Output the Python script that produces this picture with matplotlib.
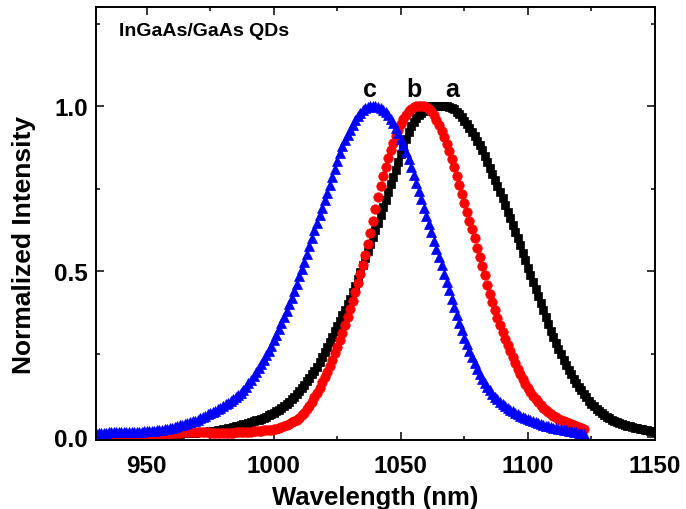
import numpy as np
import matplotlib
matplotlib.use("Agg")
import matplotlib.pyplot as plt
from matplotlib.ticker import MultipleLocator

plt.rcParams['font.family'] = ['Liberation Sans', 'DejaVu Sans']
plt.rcParams['font.weight'] = 'bold'

# PL spectra sampled every 1 nm
start_a, start_b, start_c = 930, 930, 930

# sample a (black squares)
intensity_a = [
    0.002, 0.002, 0.002, 0.002, 0.002, 0.002, 0.002, 0.002, 0.002, 0.002,
    0.002, 0.002, 0.002, 0.002, 0.002, 0.002, 0.003, 0.003, 0.003, 0.003,
    0.003, 0.003, 0.003, 0.003, 0.004, 0.004, 0.004, 0.005, 0.006, 0.006,
    0.007, 0.008, 0.009, 0.009, 0.010, 0.010, 0.011, 0.011, 0.012, 0.012,
    0.013, 0.013, 0.014, 0.014, 0.015, 0.016, 0.017, 0.018, 0.019, 0.020,
    0.022, 0.023, 0.025, 0.027, 0.029, 0.031, 0.033, 0.035, 0.037, 0.039,
    0.041, 0.044, 0.046, 0.049, 0.052, 0.055, 0.058, 0.061, 0.065, 0.069,
    0.073, 0.077, 0.082, 0.087, 0.093, 0.099, 0.105, 0.113, 0.121, 0.129,
    0.138, 0.147, 0.157, 0.167, 0.178, 0.189, 0.200, 0.212, 0.226, 0.240,
    0.255, 0.271, 0.287, 0.303, 0.319, 0.335, 0.351, 0.367, 0.384, 0.401,
    0.418, 0.437, 0.457, 0.478, 0.499, 0.520, 0.541, 0.562, 0.583, 0.604,
    0.625, 0.647, 0.670, 0.694, 0.717, 0.740, 0.763, 0.786, 0.808, 0.832,
    0.855, 0.877, 0.900, 0.921, 0.939, 0.953, 0.964, 0.972, 0.979, 0.986,
    0.992, 0.997, 0.999, 1.000, 1.000, 1.000, 1.000, 1.000, 0.999, 0.998,
    0.995, 0.990, 0.983, 0.975, 0.966, 0.956, 0.945, 0.934, 0.922, 0.909,
    0.896, 0.883, 0.866, 0.849, 0.831, 0.813, 0.795, 0.777, 0.759, 0.741,
    0.721, 0.701, 0.681, 0.661, 0.641, 0.620, 0.600, 0.579, 0.556, 0.534,
    0.511, 0.489, 0.467, 0.446, 0.425, 0.404, 0.383, 0.362, 0.341, 0.320,
    0.301, 0.283, 0.266, 0.249, 0.233, 0.218, 0.203, 0.189, 0.176, 0.163,
    0.151, 0.140, 0.129, 0.119, 0.109, 0.100, 0.092, 0.085, 0.078, 0.071,
    0.066, 0.061, 0.056, 0.052, 0.048, 0.044, 0.041, 0.038, 0.035, 0.033,
    0.031, 0.029, 0.027, 0.025, 0.023, 0.022, 0.020, 0.019, 0.017, 0.016,
    0.015, 0.014, 0.013,
]

# sample b (red circles)
intensity_b = [
    0.002, 0.002, 0.002, 0.002, 0.002, 0.002, 0.002, 0.002, 0.002, 0.002,
    0.002, 0.002, 0.002, 0.002, 0.002, 0.002, 0.002, 0.002, 0.002, 0.002,
    0.002, 0.002, 0.003, 0.003, 0.004, 0.005, 0.006, 0.007, 0.008, 0.009,
    0.010, 0.011, 0.012, 0.012, 0.013, 0.013, 0.014, 0.014, 0.014, 0.014,
    0.014, 0.014, 0.013, 0.013, 0.013, 0.012, 0.012, 0.012, 0.012, 0.012,
    0.012, 0.012, 0.012, 0.012, 0.012, 0.013, 0.013, 0.013, 0.014, 0.014,
    0.015, 0.015, 0.016, 0.017, 0.017, 0.018, 0.019, 0.020, 0.020, 0.021,
    0.022, 0.023, 0.025, 0.028, 0.031, 0.035, 0.039, 0.043, 0.047, 0.052,
    0.058, 0.065, 0.073, 0.083, 0.094, 0.106, 0.119, 0.133, 0.148, 0.164,
    0.180, 0.197, 0.215, 0.233, 0.252, 0.272, 0.293, 0.315, 0.338, 0.362,
    0.387, 0.412, 0.438, 0.465, 0.492, 0.520, 0.551, 0.583, 0.617, 0.652,
    0.688, 0.724, 0.757, 0.788, 0.817, 0.843, 0.867, 0.889, 0.909, 0.928,
    0.945, 0.960, 0.973, 0.984, 0.992, 0.997, 1.000, 1.000, 1.000, 0.999,
    0.996, 0.991, 0.984, 0.973, 0.959, 0.943, 0.926, 0.907, 0.887, 0.864,
    0.840, 0.815, 0.789, 0.762, 0.735, 0.708, 0.681, 0.654, 0.627, 0.600,
    0.572, 0.544, 0.516, 0.488, 0.460, 0.432, 0.408, 0.384, 0.360, 0.338,
    0.317, 0.297, 0.277, 0.258, 0.240, 0.222, 0.205, 0.189, 0.174, 0.160,
    0.147, 0.135, 0.124, 0.113, 0.104, 0.096, 0.088, 0.081, 0.075, 0.069,
    0.064, 0.059, 0.055, 0.051, 0.048, 0.045, 0.042, 0.039, 0.036, 0.033,
    0.030, 0.027, 0.024,
]

# sample c (blue triangles)
intensity_c = [
    0.012, 0.012, 0.012, 0.012, 0.012, 0.013, 0.013, 0.013, 0.013, 0.013,
    0.013, 0.013, 0.014, 0.014, 0.014, 0.014, 0.015, 0.015, 0.015, 0.016,
    0.016, 0.017, 0.017, 0.018, 0.019, 0.020, 0.021, 0.022, 0.024, 0.025,
    0.027, 0.029, 0.031, 0.034, 0.036, 0.038, 0.041, 0.043, 0.046, 0.048,
    0.052, 0.056, 0.060, 0.064, 0.068, 0.071, 0.075, 0.079, 0.084, 0.088,
    0.093, 0.098, 0.102, 0.108, 0.113, 0.119, 0.125, 0.133, 0.141, 0.150,
    0.161, 0.172, 0.183, 0.195, 0.207, 0.219, 0.232, 0.246, 0.260, 0.275,
    0.292, 0.309, 0.325, 0.343, 0.361, 0.380, 0.400, 0.420, 0.441, 0.463,
    0.485, 0.507, 0.530, 0.554, 0.578, 0.602, 0.625, 0.648, 0.670, 0.693,
    0.716, 0.738, 0.762, 0.786, 0.811, 0.835, 0.857, 0.878, 0.897, 0.913,
    0.929, 0.944, 0.957, 0.969, 0.980, 0.988, 0.994, 0.998, 1.000, 1.000,
    1.000, 0.998, 0.994, 0.988, 0.981, 0.972, 0.961, 0.949, 0.935, 0.919,
    0.902, 0.883, 0.862, 0.840, 0.817, 0.793, 0.768, 0.743, 0.718, 0.693,
    0.668, 0.643, 0.618, 0.593, 0.568, 0.543, 0.518, 0.493, 0.468, 0.443,
    0.418, 0.393, 0.369, 0.345, 0.322, 0.300, 0.279, 0.259, 0.240, 0.222,
    0.205, 0.190, 0.176, 0.163, 0.151, 0.140, 0.130, 0.121, 0.113, 0.106,
    0.099, 0.093, 0.087, 0.082, 0.077, 0.072, 0.068, 0.064, 0.060, 0.056,
    0.053, 0.050, 0.047, 0.044, 0.041, 0.038, 0.036, 0.033, 0.031, 0.029,
    0.027, 0.025, 0.023, 0.022, 0.020, 0.019, 0.017, 0.016, 0.014, 0.013,
    0.012, 0.010, 0.009,
]

wl_a = start_a + np.arange(len(intensity_a))
wl_b = start_b + np.arange(len(intensity_b))
wl_c = start_c + np.arange(len(intensity_c))

# curve labels: (text, wavelength, height)
curve_labels = [("c", 1038, 1.03), ("b", 1055, 1.03), ("a", 1070, 1.03)]

fig = plt.figure(figsize=(6.86, 5.10), dpi=100)
ax = fig.add_axes([0.1399, 0.1353, 0.8149, 0.849])

ax.plot(wl_a, intensity_a, linestyle='none', marker='s', markersize=6.2,
        color='black', markeredgewidth=0.5)
ax.plot(wl_b, intensity_b, linestyle='none', marker='o', markersize=6.8,
        color='#ff0000', markeredgewidth=0.5)
ax.plot(wl_c, intensity_c, linestyle='none', marker='^', markersize=7.4,
        color='#0000ff', markeredgewidth=0.5)

for txt, xv, yv in curve_labels:
    ax.text(xv, yv, txt, ha='center', va='baseline', fontsize=18,
            fontweight='bold')

ax.text(0.041, 0.945, "InGaAs/GaAs QDs", transform=ax.transAxes,
        ha='left', va='center', fontsize=14, fontweight='bold')

ax.set_xlim(930, 1150)
ax.set_ylim(-0.01, 1.30)
ax.xaxis.set_major_locator(MultipleLocator(50))
ax.xaxis.set_minor_locator(MultipleLocator(25))
ax.yaxis.set_major_locator(MultipleLocator(0.5))
ax.yaxis.set_minor_locator(MultipleLocator(0.25))
ax.set_yticks([0.0, 0.5, 1.0])
ax.set_yticklabels(["0.0", "0.5", "1.0"])

ax.tick_params(which='both', direction='in', top=True, right=True,
               width=1.1, labelsize=17.5)
ax.tick_params(which='major', length=5.5)
ax.tick_params(which='minor', length=3)
ax.tick_params(axis='x', which='major', pad=10)
ax.tick_params(axis='y', which='major', pad=6)
for s in ax.spines.values():
    s.set_linewidth(1.4)

ax.set_xlabel("Wavelength (nm)", fontsize=18.5, fontweight='bold', labelpad=6)
ax.set_ylabel("Normalized Intensity", fontsize=19, fontweight='bold')
ax.yaxis.set_label_coords(-0.108, 0.453)

fig.savefig("out.png", dpi=100)
